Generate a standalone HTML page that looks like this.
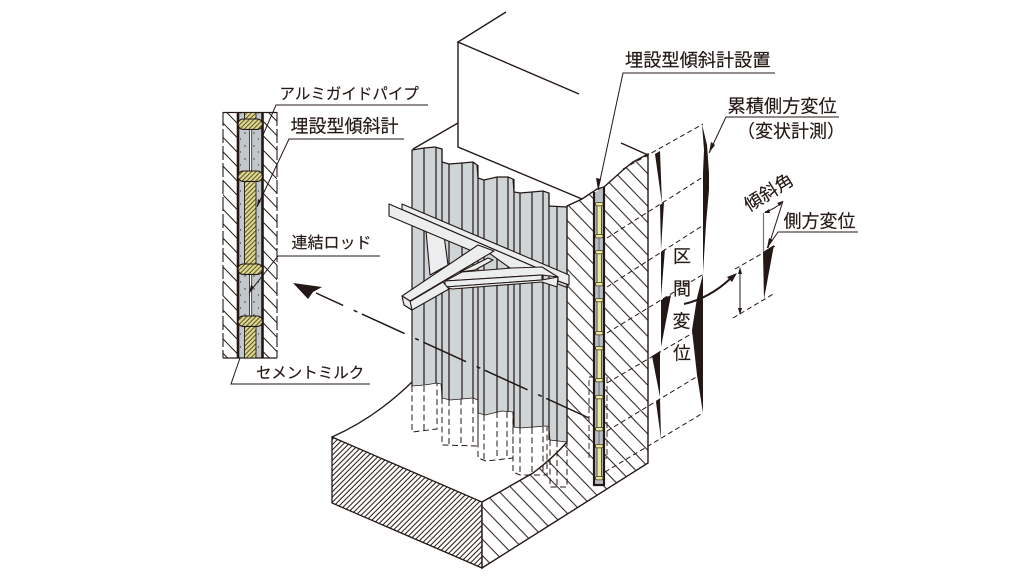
<!DOCTYPE html>
<html lang="ja">
<head>
<meta charset="utf-8">
<style>
html,body{margin:0;padding:0;background:#fff;width:1024px;height:576px;overflow:hidden}
svg{display:block}
text{font-family:"Liberation Sans","Noto Sans CJK JP",sans-serif;fill:#231815;stroke:#231815;stroke-width:.15}
</style>
</head>
<body>
<svg width="1024" height="576" viewBox="0 0 1024 576" xmlns="http://www.w3.org/2000/svg">
<defs>
<pattern id="hw" patternUnits="userSpaceOnUse" width="11.3" height="11.3" patternTransform="rotate(46)">
<rect width="11.3" height="11.3" fill="#fff"/><line x1="0" y1="5" x2="11.3" y2="5" stroke="#231815" stroke-width="1"/>
</pattern>
<pattern id="hd" patternUnits="userSpaceOnUse" width="10" height="10" patternTransform="rotate(46)">
<rect width="10" height="10" fill="#fff"/><line x1="0" y1="5" x2="10" y2="5" stroke="#231815" stroke-width="1"/>
</pattern>
<pattern id="hf" patternUnits="userSpaceOnUse" width="3.7" height="3.7" patternTransform="rotate(-45)">
<rect width="3.7" height="3.7" fill="#fff"/><line x1="0" y1="1.8" x2="3.7" y2="1.8" stroke="#231815" stroke-width="1"/>
</pattern>
<pattern id="hy" patternUnits="userSpaceOnUse" width="3.2" height="3.2" patternTransform="rotate(-45)">
<rect width="3.2" height="3.2" fill="#e0db8c"/><line x1="0" y1="1.6" x2="3.2" y2="1.6" stroke="#3a3520" stroke-width=".85"/>
</pattern>
<pattern id="cm" patternUnits="userSpaceOnUse" width="9" height="13">
<rect width="9" height="13" fill="#c2c7cb"/><circle cx="2" cy="3" r=".7" fill="#333"/><circle cx="6.5" cy="9" r=".6" fill="#333"/>
</pattern>
</defs>

<!-- Detail section -->
<g>
<rect x="223" y="112" width="14" height="246" fill="url(#hd)"/>
<rect x="263" y="112" width="14" height="246" fill="url(#hd)"/>
<rect x="238" y="112" width="25" height="246" fill="url(#cm)"/>
<g stroke="#231815" fill="none">
<line x1="223" y1="112.5" x2="277" y2="112.5" stroke-width="1.2"/>
<line x1="223" y1="358" x2="277" y2="358" stroke-width="1.2"/>
<line x1="223" y1="112" x2="223" y2="358" stroke-width="1.1" stroke-dasharray="14 3"/>
<line x1="277" y1="112" x2="277" y2="358" stroke-width="1.1" stroke-dasharray="14 3"/>
<line x1="238" y1="112" x2="238" y2="358" stroke-width="2.6"/>
<line x1="262.5" y1="112" x2="262.5" y2="358" stroke-width="2.6"/>
</g>
<g fill="url(#hy)" stroke="#231815" stroke-width=".9">
<rect x="244.5" y="112.5" width="11.5" height="12"/>
<rect x="244.5" y="176" width="11.5" height="93"/>
<rect x="244.5" y="321" width="11.5" height="37"/>
</g>
<g fill="#fff" stroke="#231815" stroke-width=".8">
<rect x="249.5" y="128" width="2.2" height="44"/>
<rect x="249.5" y="273" width="2.2" height="44"/>
</g>
<g fill="url(#hy)" stroke="#231815" stroke-width="1.1">
<rect x="238" y="119" width="24.5" height="10.4" rx="5.2"/>
<rect x="238" y="171" width="24.5" height="10.4" rx="5.2"/>
<rect x="238" y="264" width="24.5" height="10.4" rx="5.2"/>
<rect x="238" y="316" width="24.5" height="10.4" rx="5.2"/>
</g>
</g>

<!-- Upper wall box -->
<g fill="none" stroke="#231815" stroke-width="1.4">
<path d="M506,12 L458,42 L579,94"/>
<path d="M458,42 V147 L582,199"/>
<path d="M458,123 L413,149"/>
<path d="M621,143 L648,155"/>
</g>

<!-- Ground top and front -->
<path d="M332,437 Q372,420 412,382 L567,442 Q555,455 533,473 L482,502 Z" fill="#fff" stroke="none"/>
<path d="M332,437 Q375,418 412,382" fill="none" stroke="#231815" stroke-width="1.3"/>
<path d="M332,437 L482,502 V568 L332,503 Z" fill="url(#hf)" stroke="#231815" stroke-width="1.3"/>

<!-- Sheet piles -->
<path d="M412,150 L424,148 L435,147 L442,149 V162 L449,164 L462,163 L473,162 L477,165 L478,178 L484,180 L497,177 L508,177 L513,179 L514,192 L520,193 L532,192 L543,191 L549,193 V206 L567,207 V442 L550,440 L549,427 L547,426 L520,428 L513,427 V412 L502,411 L485,415 L478,413 V400 L473,398 L450,400 L442,398 L441,384 L437,383 L425,385 L412,386 Z" fill="#cfd4d7" stroke="none"/>
<path d="M412,386 V150 L424,148 L435,147 L442,149 V162 L449,164 L462,163 L473,162 L477,165 L478,178 L484,180 L497,177 L508,177 L513,179 L514,192 L520,193 L532,192 L543,191 L549,193 V206 L567,207" fill="none" stroke="#231815" stroke-width="1.2"/>
<path d="M412,386 L425,385 L437,383 L441,384 L442,398 L450,400 L473,398 L478,400 V413 L485,415 L502,411 L513,412 V427 L520,428 L547,426 L549,427 L550,440 L567,442" fill="none" stroke="#231815" stroke-width=".7"/>
<g stroke="#231815" stroke-width="1.2">
<path d="M424,148V385M436,147V383M442,149V398M449,164V400M462,163V399M473,162V398M478,165V413M484,180V415M497,177V412M508,177V412M514,179V427M520,193V428M532,192V428M543,191V426M549,193V440M557,206V441"/>
</g>

<!-- Right hatched face -->
<path d="M482,502 L533,473 Q553,458 567,442 V206 L582,199 L597,189 L604,187 L623,170 L633,162 L648,154 V463 L482,568 Z" fill="url(#hw)" stroke="#231815" stroke-width="1.4"/>

<!-- Dashed pile extensions -->
<g fill="none" stroke="#231815" stroke-width="1" stroke-dasharray="6 3.5">
<path d="M412,386 V432 L437,429 V383"/><path d="M424,386 V430"/>
<path d="M442,398 V445 L477,446 H478 V400"/><path d="M449,400 V444"/><path d="M461,399 V445"/><path d="M473,398 V446"/>
<path d="M478,413 V458 L486,461 L513,458 V412"/><path d="M484,415 V460"/><path d="M497,412 V458"/><path d="M507,412 V458"/>
<path d="M513,427 V472 L520,475 H547 V427"/><path d="M520,428 V474"/><path d="M532,428 V472"/><path d="M543,427 V473"/>
<path d="M550,440 V487 H567 V442"/><path d="M557,441 V487"/>
</g>

<!-- Dashed rectangle at inclinometer -->
<rect x="589" y="377" width="18" height="81" fill="none" stroke="#231815" stroke-width=".9" stroke-dasharray="6 3"/>

<!-- Projection dashed lines -->
<g stroke="#231815" stroke-width="1" stroke-dasharray="5 3.2" fill="none">
<path d="M623,169 L703,124"/>
<path d="M607,238 L703,177"/>
<path d="M607,287 L702,226"/>
<path d="M607,333 L702,275"/>
<path d="M607,383 L698,330"/>
<path d="M607,431 L698,376"/>
<path d="M605,472 L703,413"/>
<path d="M733,318 L775,293"/>
<path d="M735,269 L777,245"/>
</g>

<!-- Inclinometer column -->
<path d="M594,193 L604,187 V485 H594 Z" fill="#b8bec2"/>
<path d="M594,192 V485 H604 V187" fill="none" stroke="#231815" stroke-width="2.2"/>
<g fill="#ebe8a0" stroke="#3a3520" stroke-width=".8">
<rect x="597" y="204" width="4.4" height="32"/><rect x="597" y="252" width="4.4" height="32"/>
<rect x="597" y="300" width="4.4" height="33"/><rect x="597" y="348" width="4.4" height="32"/>
<rect x="597" y="397" width="4.4" height="32"/><rect x="597" y="446" width="4.4" height="32"/>
<rect x="595.5" y="202.5" width="7.5" height="3.4" rx="1.4"/><rect x="595.5" y="234.5" width="7.5" height="3.4" rx="1.4"/>
<rect x="595.5" y="250.5" width="7.5" height="3.4" rx="1.4"/><rect x="595.5" y="282.5" width="7.5" height="3.4" rx="1.4"/>
<rect x="595.5" y="298.5" width="7.5" height="3.4" rx="1.4"/><rect x="595.5" y="331.5" width="7.5" height="3.4" rx="1.4"/>
<rect x="595.5" y="346.5" width="7.5" height="3.4" rx="1.4"/><rect x="595.5" y="378.5" width="7.5" height="3.4" rx="1.4"/>
<rect x="595.5" y="395.5" width="7.5" height="3.4" rx="1.4"/><rect x="595.5" y="427.5" width="7.5" height="3.4" rx="1.4"/>
<rect x="595.5" y="444.5" width="7.5" height="3.4" rx="1.4"/><rect x="595.5" y="476.5" width="7.5" height="3.4" rx="1.4"/>
</g>
<g stroke="#555" stroke-width=".8">
<path d="M599,238V250M599,286V298M599,335V346M599,382V395M599,431V444"/>
</g>

<!-- Struts -->
<g fill="#ecedee" stroke="#231815" stroke-width="1.1" stroke-linejoin="round">
<path d="M425,220 L443,228 L448,265 L430,275 Z"/>
<path d="M402,204 L569,275 V285 L558,281 V277 L402,209.5 Z"/>
<path d="M389,204 L558,277 L510,268 L489,253 L472,251 L389,216 Z"/>
<path d="M460,272 L488,258 L493,260 L475,270 Z"/>
<path d="M445,281 L462,272 L512,268 L542,267 L558,277 L542,275 Z"/>
<path d="M445,281 L542,275 V280 L445,287 Z"/>
<path d="M445,287 L542,280 L558,277 L557,287 L542,282 L452,289 Z"/>
<path d="M404,305 L443,282 L449,289 L412,310 Z"/>
<path d="M402,296 L478,245 L494,251 L410,301 Z"/>
<path d="M402,296 L410,301 L412,310 L404,305 Z"/>
</g>
<path d="M558,281 L569,285 M558,284 L568,288" stroke="#231815" stroke-width="1" fill="none"/>

<!-- Section arrow -->
<path d="M589,418 L316,293" fill="none" stroke="#231815" stroke-width="1.5" stroke-dasharray="47 5 4 11.6"/>
<path d="M293,283 L322,287 L313,292 L308,299 Z" fill="#231815"/>

<!-- Left profile wedges -->
<g fill="#231815">
<path d="M655,154 L660,151 L662,204 Z"/>
<path d="M660,205 L664,202 L661,250 Z"/>
<path d="M661,252 L665,249 L661,297 Z"/>
<path d="M661,300 L671,295 L661,347 Z"/>
<path d="M652,356 L660,351 L660,397 Z"/>
<path d="M656,402 L660,399 L661,439 Z"/>
<path d="M702,124 L707,145 L709,173 V190 L706,224 L703,273 V173 L704,150 Z"/>
<path d="M703,274 V413 L697,375 L692,330 L697,298 Z"/>
<path d="M763,252 L774,245 L764,299 Z"/>
</g>

<!-- Curved arrow -->
<path d="M684,304 Q710,298 731,278" fill="none" stroke="#231815" stroke-width="2"/>
<path d="M737,273 L727,277 L732,282 Z" fill="#231815"/>

<!-- Dimension -->
<line x1="740" y1="268" x2="740" y2="314" fill="none" stroke="#231815" stroke-width="1"/>
<path d="M740,267 L738,274 H742 Z M740,315 L738,308 H742 Z" fill="#231815"/>
<line x1="763.5" y1="213" x2="763.5" y2="252" stroke="#777" stroke-width="1.2"/>
<line x1="783" y1="201" x2="768" y2="248" stroke="#231815" stroke-width="1"/>
<path d="M765,212 Q775,209 782,202" fill="none" stroke="#231815" stroke-width="1"/>
<path d="M764,213 L769,209 L770,213 Z M783,201 L777,203 L780,206 Z" fill="#231815"/>

<!-- Leaders -->
<g fill="none" stroke="#231815" stroke-width="1">
<path d="M428,105 H276 L263,135"/>
<path d="M404,139 H289 L257,207"/>
<path d="M380,256 H278 L249,293"/>
<path d="M370,384 H231 L240,358"/>
<path d="M775,73 H623 L598,190"/>
<path d="M839,117 H726 L709,153"/>
<path d="M858,232 H778 L767,248"/>
</g>
<g fill="#231815">
<path d="M598,190 L596,178 L601,179 Z"/>
<path d="M709,153 L711,142 L715,145 Z"/>
<path d="M767,248 L769,238 L773,240 Z"/>
<path d="M257,207 L258,199 L261,201 Z"/>
<path d="M249,293 L251,285 L254,287 Z"/>
</g>

<!-- Labels -->
<text x="279.5" y="99" font-size="15.5">アルミガイドパイプ</text>
<text x="290.5" y="132.5" font-size="18">埋設型傾斜計</text>
<text x="291.5" y="248" font-size="16">連結ロッド</text>
<text x="256" y="378" font-size="15.5">セメントミルク</text>
<text x="625" y="66.5" font-size="18.2">埋設型傾斜計設置</text>
<text x="727.5" y="112.5" font-size="18.2">累積側方変位</text>
<text x="737" y="137.5" font-size="18">（変状計測）</text>
<text x="783.5" y="227.5" font-size="18">側方変位</text>
<text x="0" y="0" font-size="18" transform="translate(749,212) rotate(-32)">傾斜角</text>
<text x="673" y="262.5" font-size="18">区</text>
<text x="673" y="295" font-size="18">間</text>
<text x="672.5" y="327.5" font-size="18">変</text>
<text x="673" y="359.5" font-size="18">位</text>
</svg>
</body>
</html>
